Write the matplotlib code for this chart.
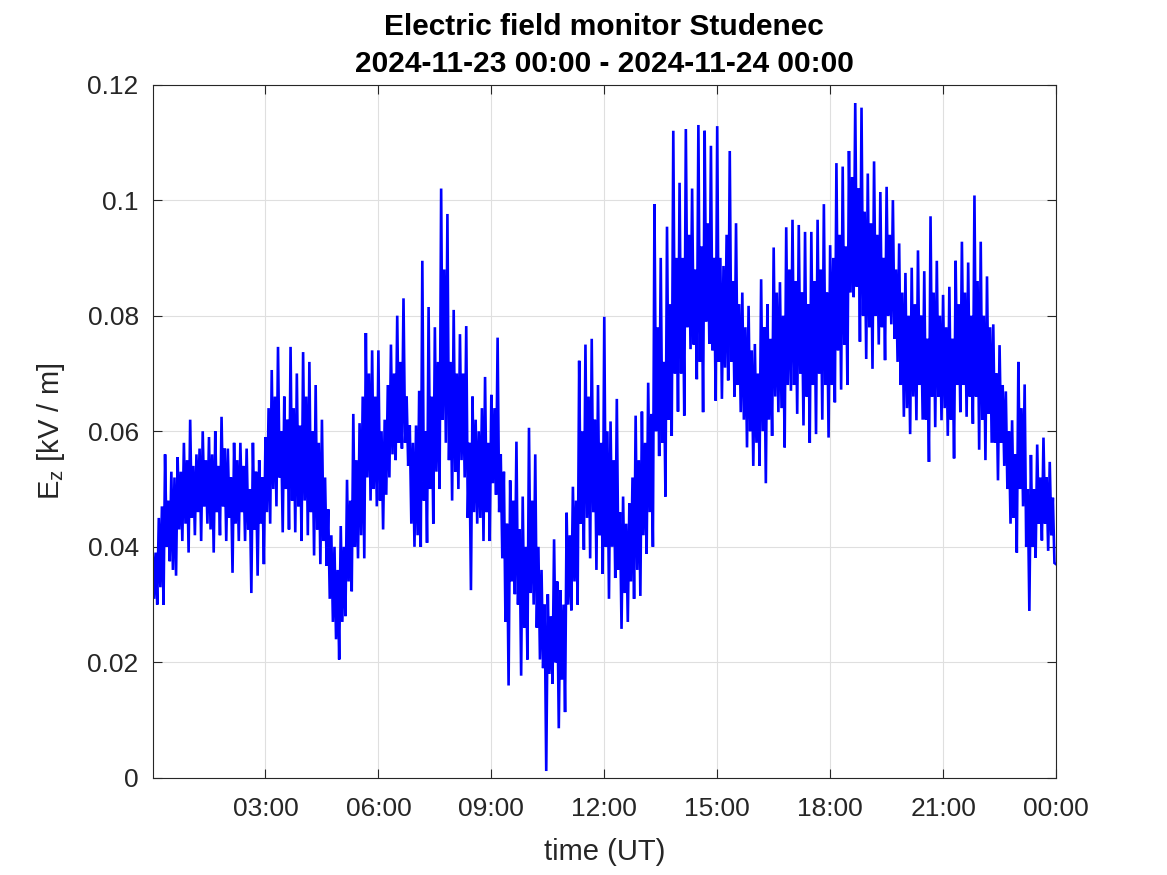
import numpy as np
import matplotlib.pyplot as plt

plt.rcParams['font.family'] = ['Liberation Sans', 'DejaVu Sans']
plt.rcParams['mathtext.fontset'] = 'custom'
plt.rcParams['mathtext.rm'] = 'Liberation Sans'

# E_z in kV/m, one row per hour, 2.5-minute samples
h00 = [0.040, 0.031, 0.039, 0.030, 0.045, 0.033, 0.047, 0.030, 0.056, 0.040, 0.048, 0.0375,
       0.053, 0.036, 0.052, 0.035, 0.0555, 0.043, 0.053, 0.041, 0.058, 0.044, 0.055, 0.039]
h01 = [0.062, 0.045, 0.054, 0.042, 0.056, 0.046, 0.057, 0.041, 0.060, 0.047, 0.055, 0.044,
       0.059, 0.043, 0.056, 0.039, 0.060, 0.046, 0.054, 0.042, 0.0625, 0.047, 0.057, 0.041]
h02 = [0.057, 0.045, 0.052, 0.0355, 0.058, 0.044, 0.055, 0.041, 0.058, 0.046, 0.054, 0.041,
       0.057, 0.043, 0.050, 0.032, 0.058, 0.043, 0.053, 0.035, 0.055, 0.044, 0.052, 0.037]
h03 = [0.059, 0.046, 0.064, 0.044, 0.0706, 0.050, 0.066, 0.047, 0.0746, 0.052, 0.060, 0.0425,
       0.066, 0.050, 0.062, 0.043, 0.0746, 0.048, 0.064, 0.0425, 0.070, 0.047, 0.061, 0.041]
h04 = [0.0737, 0.048, 0.066, 0.042, 0.072, 0.046, 0.060, 0.0385, 0.068, 0.043, 0.058, 0.037,
       0.062, 0.041, 0.052, 0.0367, 0.0465, 0.031, 0.042, 0.027, 0.040, 0.024, 0.036, 0.0205]
h05 = [0.0436, 0.027, 0.040, 0.028, 0.0516, 0.034, 0.048, 0.0323, 0.063, 0.040, 0.055, 0.038,
       0.0614, 0.042, 0.066, 0.038, 0.077, 0.052, 0.070, 0.048, 0.074, 0.050, 0.066, 0.047]
h06 = [0.074, 0.048, 0.060, 0.043, 0.062, 0.049, 0.068, 0.052, 0.075, 0.056, 0.070, 0.055,
       0.080, 0.058, 0.072, 0.057, 0.083, 0.058, 0.066, 0.054, 0.061, 0.044, 0.058, 0.040]
h07 = [0.061, 0.042, 0.067, 0.040, 0.0895, 0.048, 0.060, 0.0407, 0.0815, 0.050, 0.066, 0.044,
       0.078, 0.053, 0.072, 0.050, 0.102, 0.062, 0.088, 0.058, 0.0976, 0.055, 0.072, 0.048]
h08 = [0.081, 0.053, 0.070, 0.050, 0.0768, 0.055, 0.070, 0.052, 0.0782, 0.045, 0.058, 0.0325,
       0.066, 0.046, 0.062, 0.044, 0.060, 0.045, 0.064, 0.041, 0.0694, 0.046, 0.058, 0.041]
h09 = [0.0663, 0.051, 0.064, 0.049, 0.0762, 0.046, 0.056, 0.038, 0.053, 0.027, 0.044, 0.016,
       0.0515, 0.034, 0.048, 0.0318, 0.0582, 0.030, 0.043, 0.0177, 0.0487, 0.026, 0.040, 0.0205]
h10 = [0.0606, 0.032, 0.048, 0.030, 0.056, 0.026, 0.040, 0.0205, 0.036, 0.019, 0.030, 0.0012,
       0.0318, 0.018, 0.028, 0.0163, 0.0413, 0.020, 0.034, 0.0086, 0.0325, 0.017, 0.030, 0.0114]
h11 = [0.0459, 0.030, 0.042, 0.029, 0.0504, 0.034, 0.048, 0.030, 0.0722, 0.044, 0.060, 0.0395,
       0.075, 0.045, 0.066, 0.038, 0.076, 0.046, 0.062, 0.036, 0.068, 0.042, 0.058, 0.0353]
h12 = [0.0798, 0.040, 0.060, 0.031, 0.0617, 0.040, 0.055, 0.0346, 0.0656, 0.036, 0.046, 0.0258,
       0.0487, 0.032, 0.044, 0.027, 0.0475, 0.034, 0.052, 0.031, 0.0627, 0.036, 0.055, 0.0315]
h13 = [0.0634, 0.042, 0.058, 0.0388, 0.0684, 0.046, 0.063, 0.040, 0.0993, 0.060, 0.078, 0.0557,
       0.090, 0.058, 0.072, 0.0487, 0.0954, 0.062, 0.082, 0.0592, 0.112, 0.070, 0.090, 0.0634]
h14 = [0.103, 0.070, 0.090, 0.0627, 0.1123, 0.078, 0.094, 0.0742, 0.102, 0.075, 0.088, 0.069,
       0.113, 0.072, 0.092, 0.0633, 0.112, 0.079, 0.096, 0.0751, 0.1094, 0.074, 0.090, 0.0653]
h15 = [0.1128, 0.072, 0.090, 0.0656, 0.0886, 0.071, 0.094, 0.0688, 0.1085, 0.072, 0.086, 0.066,
       0.096, 0.068, 0.082, 0.0633, 0.084, 0.062, 0.078, 0.0572, 0.0817, 0.060, 0.074, 0.054]
h16 = [0.0751, 0.058, 0.070, 0.054, 0.0863, 0.060, 0.078, 0.051, 0.082, 0.062, 0.076, 0.0592,
       0.0918, 0.066, 0.084, 0.0633, 0.0858, 0.064, 0.080, 0.0572, 0.0953, 0.068, 0.088, 0.067]
h17 = [0.0966, 0.068, 0.086, 0.063, 0.0957, 0.070, 0.084, 0.061, 0.0945, 0.066, 0.082, 0.058,
       0.0945, 0.068, 0.086, 0.0595, 0.0966, 0.070, 0.088, 0.062, 0.0993, 0.068, 0.084, 0.0589]
h18 = [0.0922, 0.068, 0.090, 0.065, 0.1064, 0.074, 0.094, 0.0672, 0.1058, 0.075, 0.092, 0.068,
       0.1085, 0.084, 0.104, 0.0832, 0.1168, 0.085, 0.102, 0.0755, 0.116, 0.080, 0.098, 0.0725]
h19 = [0.1046, 0.078, 0.096, 0.0708, 0.1067, 0.080, 0.094, 0.075, 0.1014, 0.078, 0.090, 0.0723,
       0.1023, 0.080, 0.094, 0.0785, 0.100, 0.076, 0.088, 0.072, 0.0925, 0.068, 0.084, 0.0625]
h20 = [0.0874, 0.064, 0.080, 0.0595, 0.0883, 0.066, 0.082, 0.0619, 0.0913, 0.068, 0.080, 0.062,
       0.0877, 0.062, 0.076, 0.0547, 0.0972, 0.066, 0.084, 0.0607, 0.0895, 0.066, 0.080, 0.0619]
h21 = [0.0836, 0.064, 0.078, 0.0592, 0.085, 0.062, 0.076, 0.0553, 0.0895, 0.068, 0.082, 0.0633,
       0.0928, 0.068, 0.084, 0.0625, 0.0892, 0.066, 0.080, 0.0613, 0.1008, 0.066, 0.086, 0.0568]
h22 = [0.0928, 0.062, 0.080, 0.055, 0.0868, 0.063, 0.078, 0.058, 0.0785, 0.058, 0.070, 0.0515,
       0.0749, 0.058, 0.068, 0.054, 0.0669, 0.050, 0.060, 0.044, 0.0619, 0.045, 0.056, 0.039]
h23 = [0.072, 0.050, 0.064, 0.047, 0.0681, 0.040, 0.050, 0.0289, 0.0559, 0.040, 0.050, 0.0381,
       0.0577, 0.044, 0.052, 0.0411, 0.0589, 0.044, 0.052, 0.0393, 0.0547, 0.042, 0.0485, 0.0372]
end_value = 0.037

xticks_h = [3, 6, 9, 12, 15, 18, 21, 24]
xtick_labels = ['03:00', '06:00', '09:00', '12:00', '15:00', '18:00', '21:00', '00:00']
yticks = [0, 0.02, 0.04, 0.06, 0.08, 0.1, 0.12]
ytick_labels = ['0', '0.02', '0.04', '0.06', '0.08', '0.1', '0.12']

rows = [h00, h01, h02, h03, h04, h05, h06, h07, h08, h09, h10, h11,
        h12, h13, h14, h15, h16, h17, h18, h19, h20, h21, h22, h23]
ez = np.array([v for r in rows for v in r] + [end_value])
t = np.arange(len(ez)) * 2.5 / 60.

fig = plt.figure(figsize=(11.67, 8.75), dpi=100)
ax = fig.add_axes([0.1307, 0.1109, 0.7742, 0.7925])
ax.plot(t, ez, color=(0, 0, 1), lw=1.9, solid_joinstyle='miter')

ax.set_xlim(0, 24)
ax.set_ylim(0, 0.12)
ax.set_xticks(xticks_h)
ax.set_xticklabels(xtick_labels)
ax.set_yticks(yticks)
ax.set_yticklabels(ytick_labels)
ax.set_axisbelow(True)
ax.grid(True, color='#dfdfdf', lw=0.8)
for s in ax.spines.values():
    s.set_color('#262626')
    s.set_linewidth(0.8)
ax.tick_params(direction='in', length=6.5, width=0.8, color='#262626',
               labelcolor='#262626', labelsize=19, top=True, right=True, pad=10)
ax.tick_params(axis='x', pad=14)

ax.set_xlabel('time (UT)', fontsize=21, color='#262626', labelpad=12)
ax.set_ylabel(r'E$_{\mathrm{z}}$ [kV / m]', fontsize=21, color='#262626', labelpad=15)
ax.set_title('Electric field monitor Studenec\n2024-11-23 00:00 - 2024-11-24 00:00',
             fontsize=21.5, fontweight='bold', pad=9, linespacing=1.4)

fig.savefig('out.png', dpi=100)
